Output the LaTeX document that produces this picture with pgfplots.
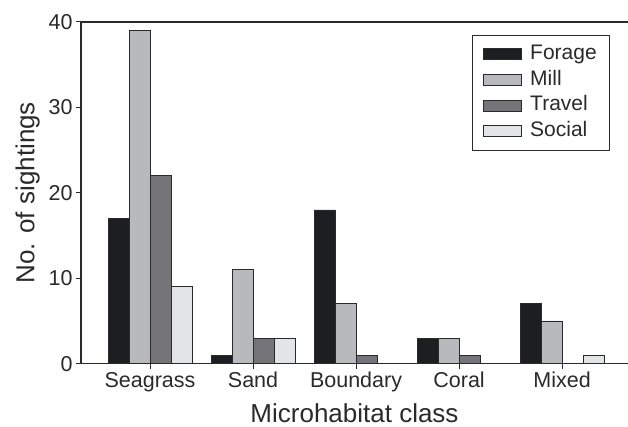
\documentclass[border=0pt]{standalone}
\usepackage{pgfplots}
\pgfplotsset{compat=1.18}
\usepackage{fontspec}
\setmainfont{Liberation Sans}
\definecolor{cF}{HTML}{1D1E21}
\definecolor{cM}{HTML}{B8B9BD}
\definecolor{cT}{HTML}{757479}
\definecolor{cS}{HTML}{E3E4E6}
\definecolor{cE}{HTML}{2A2A2C}
\begin{document}
\begin{tikzpicture}
\begin{axis}[
  scale only axis, width=547pt, height=341.7pt,
  ybar=0pt, bar width=21pt,
  xmin=-0.67, xmax=4.64, ymin=0, ymax=40,
  xtick={0,1,2,3,4},
  xticklabels={Seagrass,Sand,Boundary,Coral,Mixed},
  ytick={0,10,20,30,40},
  axis x line=box, axis y line=left,
  axis line style={-, line width=1.2pt, color=cE},
  xtick pos=bottom, ytick pos=left,
  tick align=outside, major tick length=5pt,
  tick style={line width=1pt, color=cE},
  /pgf/number format/assume math mode=true,
  tick label style={font=\fontsize{21.5}{24}\selectfont, text=cE},
  xlabel={Microhabitat class},
  ylabel={No. of sightings},
  label style={font=\fontsize{26}{28}\selectfont, text=cE},
  xlabel style={at={(axis description cs:0.5,-0.172)}, anchor=base, inner sep=0pt},
  ylabel style={at={(axis description cs:-0.075,0.5)}, anchor=south, inner sep=0pt},
  legend image code/.code={\draw[#1, line width=0.8pt] (0pt,-5.5pt) rectangle (38pt,5.5pt); \path (44pt,0pt);},
  legend style={at={(0.7148,0.962)}, anchor=north west, draw=cE, line width=0.8pt,
    font=\fontsize{21}{24}\selectfont, text=cE, inner xsep=11pt, inner ysep=6pt,
    nodes={inner sep=2pt, text height=16pt, text depth=5.7pt}, row sep=0pt},
  legend cell align=left,
]
\addplot[fill=cF, draw=cE, line width=0.8pt] coordinates {(0,17) (1,1) (2,18) (3,3) (4,7)};
\addplot[fill=cM, draw=cE, line width=0.8pt] coordinates {(0,39) (1,11) (2,7) (3,3) (4,5)};
\addplot[fill=cT, draw=cE, line width=0.8pt] coordinates {(0,22) (1,3) (2,1) (3,1)};
\addplot[fill=cS, draw=cE, line width=0.8pt] coordinates {(0,9) (1,3) (4,1)};
\legend{Forage,Mill,Travel,Social}
\end{axis}
\pgfresetboundingbox
\path (current axis.south west) ++(-81pt,-63.3pt) rectangle ++(628pt,427pt);
\end{tikzpicture}
\end{document}
